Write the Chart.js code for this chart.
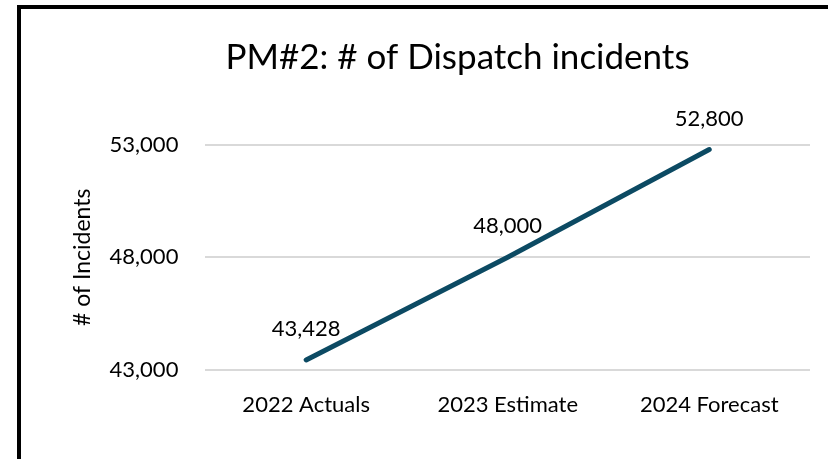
<!DOCTYPE html>
<html>
<head>
<meta charset="utf-8">
<script src="https://cdn.jsdelivr.net/npm/chart.js@4"></script>
<style>
  html, body { margin: 0; padding: 0; background: #fff; overflow: hidden; }
  #frame {
    position: absolute; left: 17px; top: 5px;
    width: 900px; height: 500px;
    border-left: 4px solid #000; border-top: 4px solid #000;
  }
  #wrap { position: absolute; left: 0; top: 0; width: 873px; height: 450px; }
</style>
</head>
<body>
<div id="frame"><div id="wrap"><canvas id="chart"></canvas></div></div>
<script>
const chartTitle = "PM#2: # of Dispatch incidents";
const categories = ["2022 Actuals", "2023 Estimate", "2024 Forecast"];
const incidents = [43428, 48000, 52800];
const yTicks = [43000, 48000, 53000];

const FONT = "Lato, 'Open Sans', sans-serif";

// title centred on the whole frame, not on the padded layout box
const frameTitle = {
  id: "frameTitle",
  afterDraw(chart) {
    const ctx = chart.ctx;
    ctx.save();
    ctx.font = "35px " + FONT;
    ctx.fillStyle = "#000";
    ctx.textAlign = "center";
    ctx.textBaseline = "alphabetic";
    ctx.fillText(chartTitle, chart.width / 2, 60);
    ctx.restore();
  }
};

const valueLabels = {
  id: "valueLabels",
  afterDatasetsDraw(chart) {
    const ctx = chart.ctx;
    const meta = chart.getDatasetMeta(0);
    ctx.save();
    ctx.font = "22px " + FONT;
    ctx.fillStyle = "#000";
    ctx.textAlign = "center";
    ctx.textBaseline = "bottom";
    meta.data.forEach((pt, i) => {
      const txt = incidents[i].toLocaleString("en-US");
      ctx.fillText(txt, pt.x, pt.y - 20);
    });
    ctx.restore();
  }
};

new Chart(document.getElementById("chart"), {
  type: "line",
  data: {
    labels: categories,
    datasets: [
      {
        data: incidents,
        borderColor: "#0c4a63",
        borderWidth: 5,
        borderCapStyle: "round",
        pointRadius: 0,
        fill: false,
        tension: 0,
      },
    ],
  },
  options: {
    responsive: true,
    maintainAspectRatio: false,
    animation: false,
    layout: { padding: { left: 48, right: 84, top: 136, bottom: 27 } },
    plugins: {
      legend: { display: false },
      tooltip: { enabled: false },
      title: { display: false },
    },
    scales: {
      x: {
        offset: true,
        grid: { display: false },
        border: { display: false },
        ticks: { color: "#000", font: { family: FONT, size: 22 }, padding: 14 },
      },
      y: {
        min: 43000,
        max: 53000,
        afterBuildTicks: (axis) => { axis.ticks = yTicks.map((v) => ({ value: v })); },
        grid: { color: "#d9d9d9", lineWidth: 2, drawTicks: false },
        border: { display: false },
        ticks: {
          color: "#000",
          font: { family: FONT, size: 22 },
          padding: 27,
          callback: (v) => v.toLocaleString("en-US"),
        },
        title: {
          display: true,
          text: "# of Incidents",
          color: "#000",
          font: { family: FONT, size: 23 },
          padding: { top: 0, bottom: -14 },
        },
      },
    },
  },
  plugins: [valueLabels, frameTitle],
});
</script>
</body>
</html>
